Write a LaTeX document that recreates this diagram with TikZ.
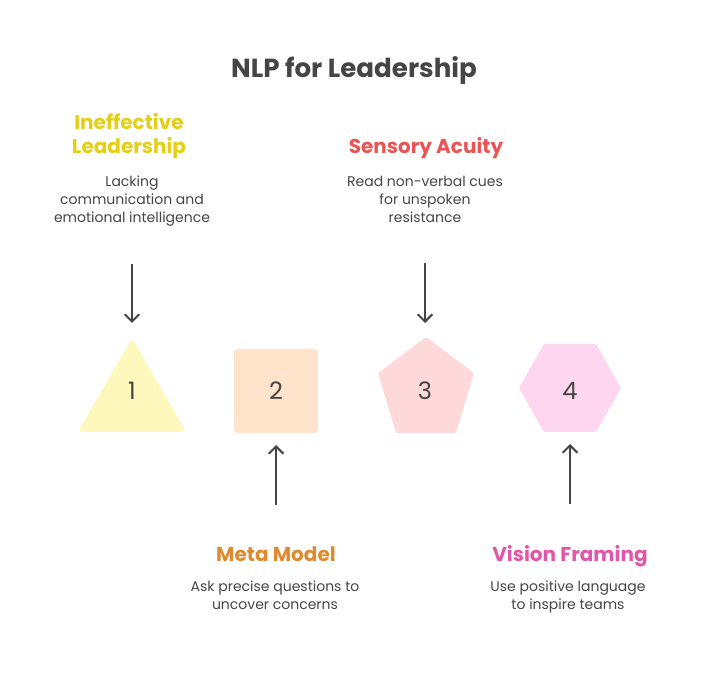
\documentclass[tikz,border=0pt]{standalone}
\usepackage{fontspec}
\setmainfont{Poppins}
\definecolor{inkgray}{HTML}{454545}
\definecolor{headyellow}{HTML}{E3CF15}
\definecolor{headorange}{HTML}{E08A30}
\definecolor{headred}{HTML}{E95555}
\definecolor{headpink}{HTML}{E056A8}
\definecolor{fillyellow}{HTML}{FFF8BC}
\definecolor{fillorange}{HTML}{FFE3CB}
\definecolor{fillred}{HTML}{FFD9D9}
\definecolor{fillpink}{HTML}{FFD6F0}
\usetikzlibrary{arrows.meta}
\tikzset{
  titletext/.style={font=\fontsize{19.6}{23}\selectfont\bfseries, text=inkgray},
  headtext/.style={font=\fontsize{15}{18}\selectfont\bfseries, align=center},
  desctext/.style={font=\fontsize{10.5}{13.5}\selectfont, text=inkgray, align=center},
  numbox/.style={font=\fontsize{18}{20}\selectfont, text=inkgray, inner sep=0pt, outer sep=0pt},
  flow/.style={draw=inkgray, line width=1.5pt, -{Straight Barb[length=5.5pt,width=11pt,line width=1.5pt]}},
  shapefill/.style={rounded corners=1pt}
}

\begin{document}
\begin{tikzpicture}[x=0.75pt, y=-0.75pt]

\useasboundingbox (0,0) rectangle (708,684);

\fill[fillyellow, rounded corners=3pt] (132,338) -- (186,432) -- (78,432) -- cycle;
\fill[fillorange, rounded corners=2.5pt] (234,349) rectangle (318,433);
\fill[fillred, shapefill] (426,337) -- (474,373) -- (456,433) -- (396,433) -- (378,373) -- cycle;
\fill[fillpink, shapefill] (519,388) -- (544,344) -- (596,344) -- (621,388) -- (596,432) -- (544,432) -- cycle;

\node[titletext] (title) at (354,71) {NLP for Leadership};

\node[headtext, text=headyellow] (head1) at (129,136) {Ineffective\\Leadership};
\node[desctext] (desc1) at (132,201) {Lacking\\communication and\\emotional intelligence};

\node[headtext, text=headorange] (head2) at (276,554) {Meta Model};
\node[desctext] (desc2) at (275,595) {Ask precise questions to\\uncover concerns};

\node[headtext, text=headred] (head3) at (426,148) {Sensory Acuity};
\node[desctext] (desc3) at (425,199) {Read non-verbal cues\\for unspoken\\resistance};

\node[headtext, text=headpink] (head4) at (570,556) {Vision Framing};
\node[desctext] (desc4) at (568,597) {Use positive language\\to inspire teams};

\node[numbox, minimum width=102*0.75pt, minimum height=100*0.75pt] (num1) at (132,391) {1};
\node[numbox, minimum width=84*0.75pt, minimum height=84*0.75pt] (num2) at (276,391) {2};
\node[numbox, minimum width=96*0.75pt, minimum height=108*0.75pt] (num3) at (425,391) {3};
\node[numbox, minimum width=102*0.75pt, minimum height=82*0.75pt] (num4) at (570,391) {4};

\draw[flow, shorten <=24.75pt, shorten >=13.5pt] (desc1.south -| num1) -- (num1.north);
\draw[flow, shorten <=53pt, shorten >=9pt] (desc2.north -| num2) -- (num2.south);
\draw[flow, shorten <=27pt, shorten >=10.5pt] (desc3.south -| num3) -- (num3.north);
\draw[flow, shorten <=53.75pt, shorten >=9pt] (desc4.north -| num4) -- (num4.south);

\end{tikzpicture}
\end{document}
